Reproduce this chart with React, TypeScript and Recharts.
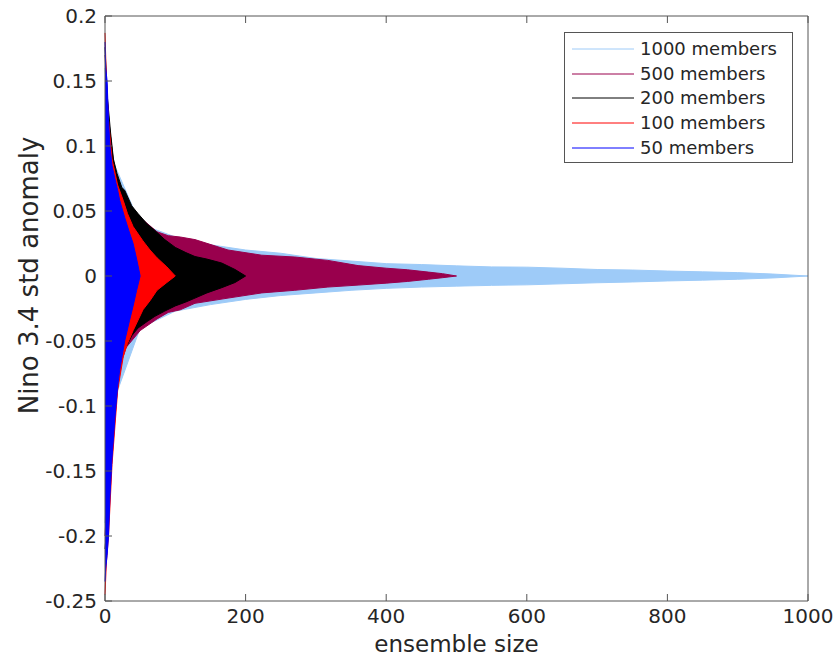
import React from "react";
import { ComposedChart, Area, XAxis, YAxis } from "recharts";

// tick labels
const xTicks = [0, 200, 400, 600, 800, 1000];
const yTicks = [-0.25, -0.2, -0.15, -0.1, -0.05, 0, 0.05, 0.1, 0.15, 0.2];

// envelopes (upper / lower) of each noisy run
const m1000X = [0, 10, 50, 100, 150, 200, 250, 300, 350, 400, 450, 500, 550, 600, 650, 700, 750, 800, 850, 900, 950, 1000];
const m1000Hi = [0.16, 0.09, 0.04, 0.03, 0.024, 0.02, 0.0175, 0.0135, 0.0115, 0.0095, 0.0088, 0.0078, 0.007, 0.0068, 0.006, 0.005, 0.0046, 0.0038, 0.0032, 0.0026, 0.0015, 0];
const m1000Lo = [-0.19, -0.1, -0.04, -0.027, -0.022, -0.018, -0.015, -0.013, -0.011, -0.0095, -0.0085, -0.0078, -0.0072, -0.0068, -0.006, -0.0052, -0.0046, -0.0038, -0.0032, -0.0025, -0.0015, 0];

const m500X = [0, 5, 15, 30, 50, 74, 90, 107, 128, 175, 223, 270, 317, 360, 400, 430, 460, 480, 500];
const m500Hi = [0.17, 0.12, 0.075, 0.055, 0.045, 0.034, 0.031, 0.03, 0.028, 0.02, 0.016, 0.0146, 0.012, 0.008, 0.006, 0.0048, 0.003, 0.0018, 0];
const m500Lo = [-0.2, -0.15, -0.08, -0.055, -0.042, -0.033, -0.028, -0.026, -0.021, -0.017, -0.013, -0.011, -0.0085, -0.007, -0.0055, -0.0042, -0.0025, -0.0013, 0];

const m200X = [0, 3, 8, 12, 17, 24, 28, 38, 47, 60, 71, 85, 100, 115, 128, 145, 166, 185, 200];
const m200Hi = [0.176, 0.14, 0.11, 0.09, 0.079, 0.068, 0.066, 0.054, 0.048, 0.04, 0.035, 0.028, 0.022, 0.018, 0.015, 0.013, 0.01, 0.005, 0];
const m200Lo = [-0.21, -0.19, -0.15, -0.12, -0.09, -0.062, -0.057, -0.046, -0.04, -0.035, -0.031, -0.027, -0.023, -0.02, -0.017, -0.013, -0.009, -0.005, 0];

const m100X = [0, 2, 5, 10, 18, 26, 32, 40, 54, 64, 74, 88, 100];
const m100Hi = [0.187, 0.15, 0.12, 0.09, 0.07, 0.058, 0.048, 0.038, 0.027, 0.02, 0.014, 0.007, 0];
const m100Lo = [-0.245, -0.22, -0.2, -0.145, -0.088, -0.062, -0.052, -0.042, -0.026, -0.019, -0.011, -0.005, 0];

const m50X = [0, 1, 3, 5, 7, 10, 14, 18, 21, 28, 35, 40, 45, 50];
const m50Hi = [0.18, 0.16, 0.15, 0.12, 0.1, 0.085, 0.075, 0.066, 0.058, 0.045, 0.033, 0.025, 0.013, 0];
const m50Lo = [-0.235, -0.225, -0.215, -0.2, -0.17, -0.14, -0.11, -0.085, -0.072, -0.05, -0.034, -0.023, -0.011, 0];

const series = [
  { key: "m1000", name: "1000 members", color: "#9ecbf8", x: m1000X, hi: m1000Hi, lo: m1000Lo },
  { key: "m500", name: "500 members", color: "#99004d", x: m500X, hi: m500Hi, lo: m500Lo },
  { key: "m200", name: "200 members", color: "#000000", x: m200X, hi: m200Hi, lo: m200Lo },
  { key: "m100", name: "100 members", color: "#ff0000", x: m100X, hi: m100Hi, lo: m100Lo },
  { key: "m50", name: "50 members", color: "#0000ff", x: m50X, hi: m50Hi, lo: m50Lo },
];

const rows = series
  .flatMap((s) => s.x.map((x, i) => ({ x, [s.key]: [s.lo[i], s.hi[i]] })))
  .sort((a, b) => a.x - b.x);

const FONT = "'DejaVu Sans', sans-serif";
const AXIS = "#555555";
const TEXT = "#262626";
const TICK_LEN = 7;

function BottomTick(props: any) {
  const { x, y, payload } = props;
  const ay = y - 6;
  return (
    <g>
      <line x1={x} x2={x} y1={ay} y2={ay - TICK_LEN} stroke={AXIS} />
      <text x={x} y={y} dy="0.78em" textAnchor="middle" fill={TEXT} fontSize={20} fontFamily={FONT}>
        {payload.value}
      </text>
    </g>
  );
}

function LeftTick(props: any) {
  const { x, y, payload } = props;
  const ax = x + 8;
  return (
    <g>
      <line x1={ax} x2={ax + TICK_LEN} y1={y} y2={y} stroke={AXIS} />
      <text x={x} y={y} dy="0.36em" textAnchor="end" fill={TEXT} fontSize={20} fontFamily={FONT}>
        {payload.value}
      </text>
    </g>
  );
}

function TopTick(props: any) {
  const { x, y } = props;
  return <line x1={x} x2={x} y1={y} y2={y + TICK_LEN} stroke={AXIS} />;
}

function RightTick(props: any) {
  const { x, y } = props;
  return <line x1={x} x2={x - TICK_LEN} y1={y} y2={y} stroke={AXIS} />;
}

function YLabel(props: any) {
  const { viewBox } = props;
  const cx = viewBox.x + 4;
  const cy = viewBox.y + viewBox.height / 2 - 33;
  return (
    <text
      x={cx}
      y={cy}
      transform={`rotate(-90 ${cx} ${cy})`}
      textAnchor="middle"
      dominantBaseline="central"
      fill={TEXT}
      fontSize={26}
      fontFamily={FONT}
    >
      Nino 3.4 std anomaly
    </text>
  );
}

function LegendBox() {
  return (
    <div
      style={{
        position: "absolute",
        left: 564,
        top: 32,
        width: 227,
        height: 129,
        border: `1px solid ${AXIS}`,
        background: "#fff",
        fontFamily: FONT,
        fontSize: 18,
        color: TEXT,
      }}
    >
      {series.map((s, i) => (
        <div key={s.key} style={{ display: "flex", alignItems: "center", height: 24.6, marginTop: i === 0 ? 4 : 0 }}>
          <svg width={75} height={10} style={{ flex: "none" }}>
            <line x1={7} x2={69} y1={5} y2={5} stroke={s.color} strokeWidth={1} />
          </svg>
          <span style={{ lineHeight: "24px", whiteSpace: "nowrap" }}>{s.name}</span>
        </div>
      ))}
    </div>
  );
}

export default function App() {
  return (
    <div style={{ position: "absolute", left: 0, top: 0, width: 836, height: 663, background: "#fff" }}>
      <ComposedChart width={836} height={663} data={rows} margin={{ top: 15, right: 27, bottom: 11, left: 25 }}>
        <XAxis
          xAxisId="b"
          dataKey="x"
          type="number"
          domain={[0, 1000]}
          ticks={xTicks}
          interval={0}
          tickLine={false}
          tickSize={0}
          tickMargin={6}
          height={51}
          stroke={AXIS}
          tick={<BottomTick />}
          label={{ value: "ensemble size", position: "insideBottom", offset: 0, fill: TEXT, fontSize: 23, fontFamily: FONT }}
        />
        <XAxis
          xAxisId="t"
          orientation="top"
          dataKey="x"
          type="number"
          domain={[0, 1000]}
          ticks={xTicks}
          interval={0}
          tickLine={false}
          tickSize={0}
          tickMargin={0}
          height={1}
          stroke={AXIS}
          tick={<TopTick />}
        />
        <YAxis
          yAxisId="l"
          type="number"
          domain={[-0.25, 0.2]}
          ticks={yTicks}
          interval={0}
          tickLine={false}
          tickSize={0}
          tickMargin={8}
          width={80}
          stroke={AXIS}
          tick={<LeftTick />}
          label={{ content: (p: any) => <YLabel {...p} /> }}
        />
        <YAxis
          yAxisId="r"
          orientation="right"
          type="number"
          domain={[-0.25, 0.2]}
          ticks={yTicks}
          interval={0}
          tickLine={false}
          tickSize={0}
          tickMargin={0}
          width={1}
          stroke={AXIS}
          tick={<RightTick />}
        />
        {series.map((s) => (
          <Area
            key={s.key}
            xAxisId="b"
            yAxisId="l"
            dataKey={s.key}
            name={s.name}
            type="linear"
            stroke={s.color}
            strokeWidth={1}
            fill={s.color}
            fillOpacity={1}
            connectNulls
            dot={false}
            activeDot={false}
            isAnimationActive={false}
          />
        ))}
      </ComposedChart>
      <LegendBox />
    </div>
  );
}
